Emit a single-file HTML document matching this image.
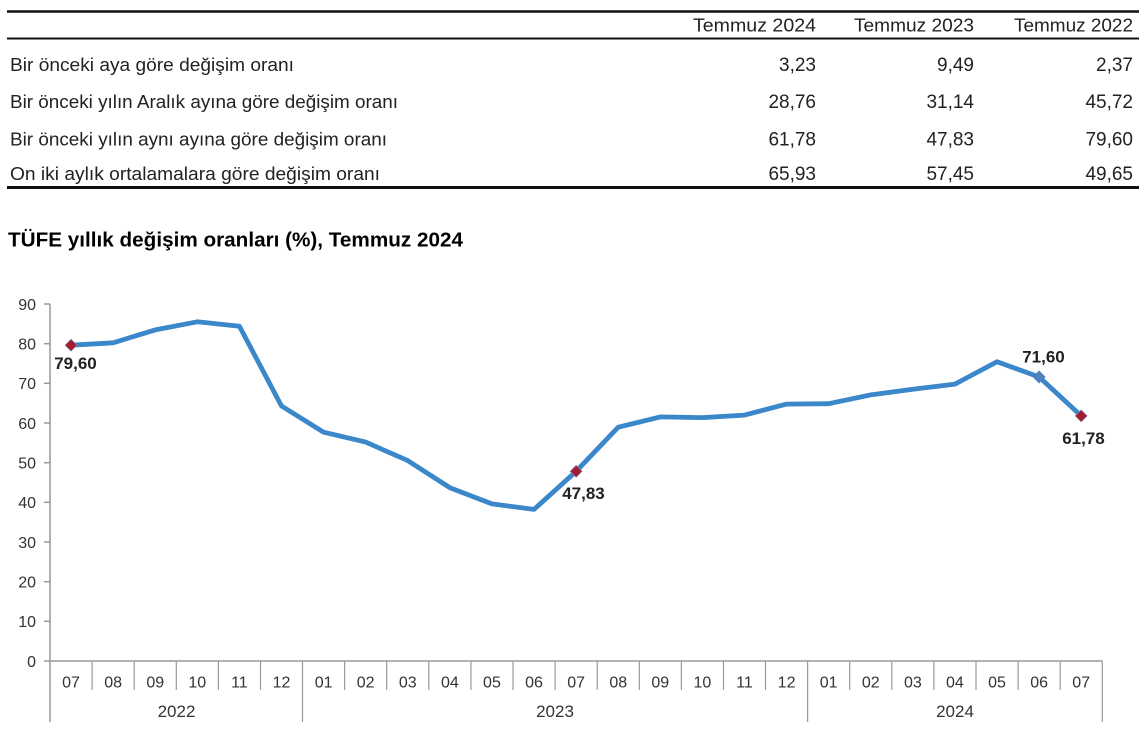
<!DOCTYPE html>
<html>
<head>
<meta charset="utf-8">
<style>
  html, body { margin:0; padding:0; background:#ffffff; }
  body { width:1147px; height:737px; overflow:hidden; }
  svg { display:block; font-family:"Liberation Sans", Arial, sans-serif; }
</style>
</head>
<body>
<svg width="1147" height="737" viewBox="0 0 1147 737" xmlns="http://www.w3.org/2000/svg">
  <!-- Table -->
  <line x1="7" y1="11.5" x2="1139" y2="11.5" stroke="#111" stroke-width="2.5"/>
  <line x1="7" y1="38.5" x2="1139" y2="38.5" stroke="#111" stroke-width="2"/>
  <line x1="7" y1="187.5" x2="1139" y2="187.5" stroke="#111" stroke-width="3"/>

  <g font-size="18" fill="#222" text-anchor="end">
    <text x="816" y="31.5" textLength="123" lengthAdjust="spacingAndGlyphs">Temmuz 2024</text>
    <text x="974" y="31.5" textLength="120" lengthAdjust="spacingAndGlyphs">Temmuz 2023</text>
    <text x="1133" y="31.5" textLength="119" lengthAdjust="spacingAndGlyphs">Temmuz 2022</text>
  </g>
  <g font-size="19" fill="#222" text-anchor="end">
    <text x="816" y="71">3,23</text>
    <text x="974" y="71">9,49</text>
    <text x="1133" y="71">2,37</text>

    <text x="816" y="108">28,76</text>
    <text x="974" y="108">31,14</text>
    <text x="1133" y="108">45,72</text>

    <text x="816" y="145.5">61,78</text>
    <text x="974" y="145.5">47,83</text>
    <text x="1133" y="145.5">79,60</text>

    <text x="816" y="180">65,93</text>
    <text x="974" y="180">57,45</text>
    <text x="1133" y="180">49,65</text>
  </g>
  <g font-size="18" fill="#222">
    <text x="10" y="71" textLength="284" lengthAdjust="spacingAndGlyphs">Bir önceki aya göre değişim oranı</text>
    <text x="10" y="108" textLength="388" lengthAdjust="spacingAndGlyphs">Bir önceki yılın Aralık ayına göre değişim oranı</text>
    <text x="10" y="145.5" textLength="377" lengthAdjust="spacingAndGlyphs">Bir önceki yılın aynı ayına göre değişim oranı</text>
    <text x="10" y="180" textLength="370" lengthAdjust="spacingAndGlyphs">On iki aylık ortalamalara göre değişim oranı</text>
  </g>

  <!-- Title -->
  <text x="8" y="246.5" font-size="20" font-weight="bold" fill="#000" textLength="455" lengthAdjust="spacingAndGlyphs">TÜFE yıllık değişim oranları (%), Temmuz 2024</text>

  <!-- Y axis -->
  <g stroke="#999" stroke-width="1.5">
    <line x1="50" y1="304" x2="50" y2="722"/>
    <line x1="44" y1="304" x2="50" y2="304"/>
    <line x1="44" y1="343.7" x2="50" y2="343.7"/>
    <line x1="44" y1="383.3" x2="50" y2="383.3"/>
    <line x1="44" y1="423" x2="50" y2="423"/>
    <line x1="44" y1="462.7" x2="50" y2="462.7"/>
    <line x1="44" y1="502.3" x2="50" y2="502.3"/>
    <line x1="44" y1="542" x2="50" y2="542"/>
    <line x1="44" y1="581.7" x2="50" y2="581.7"/>
    <line x1="44" y1="621.3" x2="50" y2="621.3"/>
    <line x1="44" y1="661" x2="1102.5" y2="661"/>
  </g>
  <g font-size="16" fill="#333" text-anchor="end">
    <text x="36" y="309.8">90</text>
    <text x="36" y="349.5">80</text>
    <text x="36" y="389.1">70</text>
    <text x="36" y="428.8">60</text>
    <text x="36" y="468.5">50</text>
    <text x="36" y="508.1">40</text>
    <text x="36" y="547.8">30</text>
    <text x="36" y="587.5">20</text>
    <text x="36" y="627.1">10</text>
    <text x="36" y="666.8">0</text>
  </g>

  <!-- X axis category separators -->
  <g stroke="#999" stroke-width="1.2">
    <line x1="92.1" y1="661" x2="92.1" y2="690"/>
    <line x1="134.2" y1="661" x2="134.2" y2="690"/>
    <line x1="176.3" y1="661" x2="176.3" y2="690"/>
    <line x1="218.4" y1="661" x2="218.4" y2="690"/>
    <line x1="260.5" y1="661" x2="260.5" y2="690"/>
    <line x1="302.5" y1="661" x2="302.5" y2="722"/>
    <line x1="344.6" y1="661" x2="344.6" y2="690"/>
    <line x1="386.7" y1="661" x2="386.7" y2="690"/>
    <line x1="428.8" y1="661" x2="428.8" y2="690"/>
    <line x1="470.9" y1="661" x2="470.9" y2="690"/>
    <line x1="513.0" y1="661" x2="513.0" y2="690"/>
    <line x1="555.1" y1="661" x2="555.1" y2="690"/>
    <line x1="597.2" y1="661" x2="597.2" y2="690"/>
    <line x1="639.3" y1="661" x2="639.3" y2="690"/>
    <line x1="681.4" y1="661" x2="681.4" y2="690"/>
    <line x1="723.5" y1="661" x2="723.5" y2="690"/>
    <line x1="765.5" y1="661" x2="765.5" y2="690"/>
    <line x1="807.6" y1="661" x2="807.6" y2="722"/>
    <line x1="849.7" y1="661" x2="849.7" y2="690"/>
    <line x1="891.8" y1="661" x2="891.8" y2="690"/>
    <line x1="933.9" y1="661" x2="933.9" y2="690"/>
    <line x1="976.0" y1="661" x2="976.0" y2="690"/>
    <line x1="1018.1" y1="661" x2="1018.1" y2="690"/>
    <line x1="1060.2" y1="661" x2="1060.2" y2="690"/>
    <line x1="1102.3" y1="661" x2="1102.3" y2="722"/>
  </g>
  <g font-size="16" fill="#333" text-anchor="middle">
    <text x="71.05" y="687.5">07</text>
    <text x="113.14" y="687.5">08</text>
    <text x="155.23" y="687.5">09</text>
    <text x="197.32" y="687.5">10</text>
    <text x="239.41" y="687.5">11</text>
    <text x="281.50" y="687.5">12</text>
    <text x="323.59" y="687.5">01</text>
    <text x="365.68" y="687.5">02</text>
    <text x="407.77" y="687.5">03</text>
    <text x="449.86" y="687.5">04</text>
    <text x="491.95" y="687.5">05</text>
    <text x="534.04" y="687.5">06</text>
    <text x="576.13" y="687.5">07</text>
    <text x="618.22" y="687.5">08</text>
    <text x="660.31" y="687.5">09</text>
    <text x="702.40" y="687.5">10</text>
    <text x="744.49" y="687.5">11</text>
    <text x="786.58" y="687.5">12</text>
    <text x="828.67" y="687.5">01</text>
    <text x="870.76" y="687.5">02</text>
    <text x="912.85" y="687.5">03</text>
    <text x="954.94" y="687.5">04</text>
    <text x="997.03" y="687.5">05</text>
    <text x="1039.12" y="687.5">06</text>
    <text x="1081.21" y="687.5">07</text>
  </g>
  <g font-size="17" fill="#333" text-anchor="middle">
    <text x="176.5" y="717">2022</text>
    <text x="555" y="717">2023</text>
    <text x="955" y="717">2024</text>
  </g>

  <!-- Series -->
  <polyline fill="none" stroke="#3a87c9" stroke-width="4.8" stroke-linejoin="round" stroke-linecap="round"
    points="71.05,345.2 113.14,342.8 155.23,329.9 197.32,321.8 239.41,326.2 281.50,406.0 323.59,432.2 365.68,442.1 407.77,460.6 449.86,487.7 491.95,503.9 534.04,509.4 576.13,471.3 618.22,427.2 660.31,416.9 702.40,417.6 744.49,415.1 786.58,404.1 828.67,403.7 870.76,394.9 912.85,389.2 954.94,384.1 997.03,361.7 1039.12,377.0 1081.21,415.9"/>

  <!-- Markers -->
  <polygon points="71.05,339.2 77.05,345.2 71.05,351.2 65.05,345.2" fill="#a31d32" stroke="#8a8aa8" stroke-width="0.6"/>
  <polygon points="576.13,465.3 582.13,471.3 576.13,477.3 570.13,471.3" fill="#a31d32" stroke="#8a8aa8" stroke-width="0.6"/>
  <polygon points="1039.12,370.5 1045.62,377.0 1039.12,383.5 1032.62,377.0" fill="#4f81bd"/>
  <polygon points="1081.21,409.9 1087.21,415.9 1081.21,421.9 1075.21,415.9" fill="#a31d32" stroke="#8a8aa8" stroke-width="0.6"/>

  <!-- Data labels -->
  <g font-size="17" font-weight="bold" fill="#222" text-anchor="middle">
    <text x="75.5" y="369">79,60</text>
    <text x="583.5" y="499">47,83</text>
    <text x="1043.5" y="362.5">71,60</text>
    <text x="1083.5" y="444">61,78</text>
  </g>
</svg>
</body>
</html>
